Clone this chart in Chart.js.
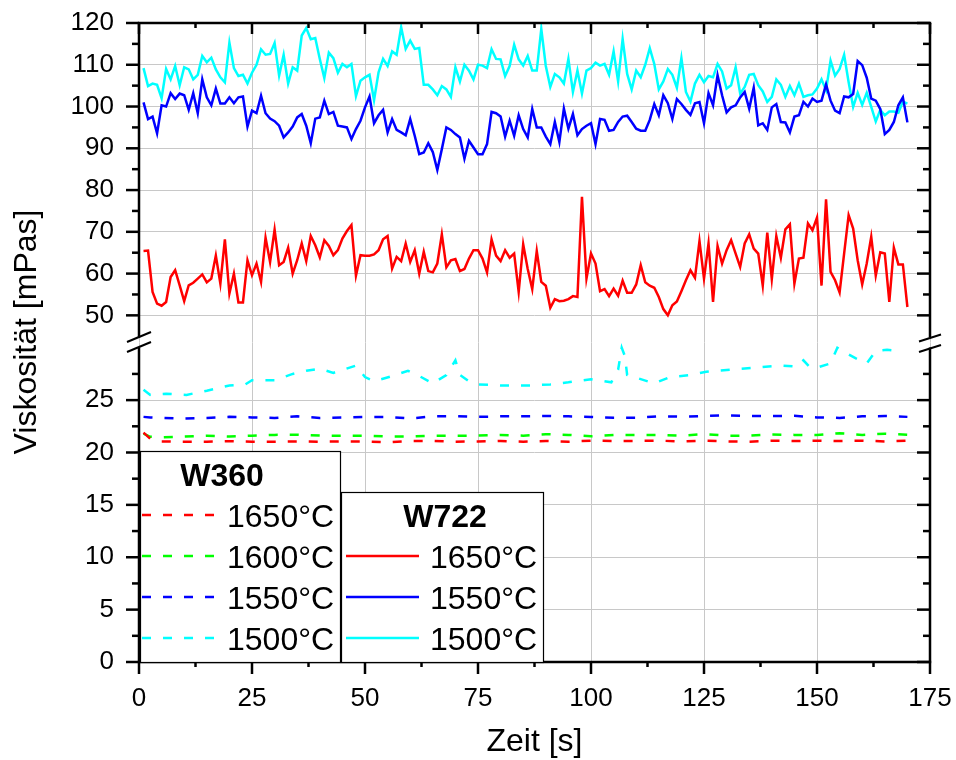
<!DOCTYPE html>
<html>
<head>
<meta charset="utf-8">
<script src="https://cdn.jsdelivr.net/npm/chart.js@4.4.1/dist/chart.umd.min.js"></script>
<style>
  html, body { margin: 0; padding: 0; background: #fff; }
  #wrap { width: 956px; height: 760px; }
</style>
</head>
<body>
<div id="wrap"><canvas id="viskoChart" width="956" height="760"></canvas></div>
<script>
// Zeitachse W722 (1 s Schritte)
const zeit = Array.from({ length: 170 }, (_, i) => i + 1)

const w722_1650 = [
  65.4, 65.5, 55.6, 52.8, 52.3, 53.2, 59.2, 60.8, 57.2, 53.4,
  57.2, 57.8, 58.8, 59.8, 57.9, 58.8, 64.3, 57.6, 68.2, 55.2,
  60.0, 53.1, 53.1, 63.2, 59.6, 62.4, 58.0, 68.6, 62.8, 70.5,
  62.0, 62.8, 66.2, 60.0, 63.2, 67.2, 63.0, 69.0, 66.8, 63.9,
  68.0, 66.6, 64.4, 65.6, 68.4, 70.2, 71.6, 59.5, 64.4, 64.3,
  64.3, 64.6, 65.6, 68.2, 69.0, 61.2, 64.0, 63.0, 67.2, 62.8,
  65.6, 60.0, 65.2, 60.6, 60.3, 62.4, 69.4, 61.5, 63.2, 63.5,
  60.6, 61.1, 63.6, 65.6, 65.6, 63.6, 60.3, 68.2, 64.3, 63.0,
  65.6, 63.8, 64.8, 55.6, 67.0, 61.1, 56.3, 65.4, 58.0, 57.1,
  51.8, 53.9, 53.4, 53.5, 53.9, 54.6, 54.4, 78.4, 58.8, 64.8,
  62.4, 55.8, 56.3, 54.6, 56.4, 54.7, 58.3, 55.4, 55.4, 57.4,
  62.0, 57.9, 57.1, 56.6, 54.4, 51.5, 50.0, 52.4, 53.3, 55.8,
  58.4, 60.8, 59.0, 67.8, 58.8, 67.2, 53.2, 66.6, 62.4, 65.6,
  68.0, 64.8, 61.6, 67.2, 69.4, 66.0, 64.8, 57.1, 69.8, 58.7,
  69.0, 63.8, 70.6, 71.8, 57.6, 63.6, 63.8, 72.0, 70.4, 73.4,
  57.1, 77.8, 60.4, 58.4, 55.5, 64.8, 74.0, 70.8, 63.2, 57.4,
  62.4, 68.8, 59.5, 65.1, 64.8, 53.2, 66.2, 62.2, 62.2, 52.0
]

const w722_1550 = [
  101.0, 97.0, 97.6, 93.6, 100.3, 100.0, 103.2, 101.8, 103.1, 102.7,
  99.2, 103.2, 98.4, 106.5, 102.2, 100.3, 104.3, 100.7, 100.7, 102.2,
  100.8, 102.2, 102.4, 95.2, 99.0, 98.4, 102.6, 98.4, 97.1, 96.5,
  95.4, 92.6, 93.8, 95.2, 97.4, 98.2, 95.4, 91.2, 97.1, 97.4,
  101.4, 98.2, 98.7, 95.4, 95.2, 95.0, 92.2, 94.6, 96.6, 99.8,
  102.4, 96.0, 97.9, 99.2, 93.8, 97.0, 94.4, 93.8, 93.1, 97.0,
  93.0, 88.6, 89.0, 91.2, 89.1, 84.8, 89.8, 95.0, 94.4, 93.4,
  92.6, 87.5, 91.8, 90.2, 88.6, 88.6, 91.0, 98.7, 98.4, 97.6,
  92.8, 96.6, 93.0, 97.9, 94.6, 92.6, 99.4, 95.0, 95.0, 92.8,
  91.0, 96.3, 91.5, 99.5, 94.7, 98.2, 93.1, 94.6, 95.4, 96.0,
  91.0, 97.0, 96.8, 94.2, 94.4, 96.3, 97.6, 97.8, 96.3, 94.7,
  94.2, 94.2, 96.8, 100.6, 97.9, 102.7, 100.8, 97.0, 101.8, 100.6,
  99.2, 98.0, 100.8, 101.1, 96.0, 103.2, 100.3, 107.5, 102.7, 98.6,
  99.8, 100.3, 102.2, 103.5, 99.5, 104.5, 95.5, 96.0, 94.4, 99.8,
  100.6, 96.3, 96.2, 93.8, 97.6, 97.9, 101.1, 100.0, 101.9, 101.1,
  101.4, 105.3, 101.4, 99.0, 98.4, 102.4, 102.2, 103.0, 110.9, 109.9,
  106.9, 101.9, 101.4, 99.4, 93.4, 94.4, 96.3, 100.3, 102.2, 96.2
]

const w722_1500 = [
  109.2, 104.9, 105.5, 105.2, 102.0, 109.0, 106.5, 109.7, 105.1, 109.4,
  108.9, 106.5, 107.6, 112.1, 110.6, 111.7, 108.9, 107.0, 105.8, 115.3,
  109.2, 107.3, 107.6, 105.5, 108.1, 110.0, 113.7, 112.4, 112.6, 115.2,
  107.4, 112.4, 105.5, 109.4, 108.6, 117.0, 118.8, 116.1, 116.4, 111.4,
  106.8, 112.9, 111.6, 108.1, 110.2, 109.4, 110.2, 102.5, 106.2, 107.0,
  107.6, 101.5, 108.2, 111.4, 109.7, 113.2, 112.4, 119.0, 113.8, 115.8,
  113.8, 114.0, 105.2, 105.2, 104.1, 102.7, 104.9, 104.1, 102.3, 109.4,
  106.0, 110.0, 108.6, 106.5, 110.0, 109.8, 109.2, 113.7, 111.4, 111.3,
  107.3, 109.7, 114.8, 111.3, 109.8, 112.1, 108.6, 108.6, 118.6, 109.7,
  104.7, 107.8, 107.0, 105.5, 111.4, 103.5, 108.6, 103.1, 108.6, 109.2,
  110.5, 109.8, 110.2, 107.6, 113.2, 106.0, 116.2, 107.8, 104.1, 108.6,
  107.0, 110.0, 114.0, 110.2, 104.1, 106.0, 109.0, 107.6, 104.5, 111.6,
  103.5, 101.2, 105.5, 107.6, 105.8, 107.3, 107.0, 110.2, 108.4, 104.3,
  105.1, 109.4, 103.1, 104.7, 107.6, 107.8, 105.1, 103.6, 101.1, 102.3,
  106.5, 105.2, 102.3, 104.9, 102.7, 105.5, 102.3, 102.7, 102.9, 104.3,
  106.5, 103.9, 111.0, 107.4, 109.0, 112.4, 105.8, 99.9, 103.3, 100.4,
  103.3, 99.9, 96.4, 99.2, 97.9, 98.8, 98.8, 98.5, 101.2, 100.7
]

// W360 (gestrichelt)
const w360Zeit = [1, 2.5, 5, 10, 15, 20, 25, 30, 35, 40, 45, 50, 55, 60, 65, 70, 75, 80, 85,
  90, 95, 100, 105, 110, 115, 120, 125, 130, 135, 140, 145, 150, 155, 160, 165, 170]
const w360_1650 = [21.9, 21.3, 21.05, 21.03, 21.03, 21.08, 21.03, 21.03, 21.06, 21.03, 21.06, 21.06,
  20.97, 21.1, 21.1, 21.03, 21.06, 21.1, 21.03, 21.1, 21.03, 21.13, 21.1, 21.1, 21.13, 21.06,
  21.13, 21.06, 21.03, 21.13, 21.1, 21.13, 21.1, 21.13, 21.06, 21.13]
const w360_1600 = [21.8, 21.5, 21.45, 21.52, 21.61, 21.52, 21.61, 21.68, 21.7, 21.61, 21.61, 21.61,
  21.52, 21.52, 21.61, 21.61, 21.61, 21.68, 21.61, 21.75, 21.68, 21.55, 21.68, 21.68, 21.68, 21.61,
  21.75, 21.61, 21.61, 21.72, 21.68, 21.68, 21.84, 21.68, 21.8, 21.7]
const w360_1550 = [23.4, 23.35, 23.3, 23.23, 23.3, 23.4, 23.35, 23.3, 23.45, 23.3, 23.35, 23.4,
  23.4, 23.25, 23.45, 23.48, 23.4, 23.45, 23.45, 23.48, 23.45, 23.4, 23.32, 23.32, 23.45, 23.42,
  23.48, 23.55, 23.48, 23.48, 23.5, 23.35, 23.3, 23.45, 23.48, 23.4]
const w360Zeit1500 = [1, 2.5, 6, 10.5, 15, 20, 23.5, 25, 30, 34, 37, 40, 43, 48, 50, 52, 56, 59.5,
  62, 65, 68, 70, 71, 73, 75, 80, 86.5, 91, 95, 100, 104.5, 106, 106.8, 107.5, 108, 114, 117.5,
  122, 125.5, 131, 136.5, 142, 145.5, 147, 148.5, 150, 153, 154.5, 156, 158.5, 161, 163, 165.5, 168]
const w360_1500 = [26.0, 25.5, 25.6, 25.5, 25.9, 26.4, 26.5, 26.9, 26.9, 27.5, 27.8, 28.0, 27.6,
  28.3, 27.2, 26.8, 27.3, 27.8, 27.3, 26.6, 27.4, 28.8, 27.4, 26.8, 26.5, 26.4, 26.4, 26.5, 26.7,
  27.0, 26.7, 27.9, 30.0, 29.2, 27.4, 26.6, 27.2, 27.4, 27.7, 27.9, 28.1, 28.3, 28.2, 28.8, 28.1,
  28.1, 28.5, 30.0, 29.6, 29.0, 28.5, 29.7, 29.8, 29.7]

const xTicks = [0, 25, 50, 75, 100, 125, 150, 175]
const yTicksOben = [50, 60, 70, 80, 90, 100, 110, 120]
const yTicksUnten = [0, 5, 10, 15, 20, 25]

const FONT = "'Liberation Sans', Arial, sans-serif"
const GRID = '#c8c8c8'
Chart.defaults.font.family = FONT
Chart.defaults.color = '#000'

const pts = (xs, ys) => ys.map((y, i) => ({ x: xs[i], y: y }))

const linie = (label, xs, ys, color, axis, dashed) => ({
  label: label,
  data: pts(xs, ys),
  yAxisID: axis,
  borderColor: color,
  backgroundColor: color,
  borderWidth: 2.5,
  borderDash: dashed ? [9, 12] : [],
  pointRadius: 0,
  tension: 0,
  fill: false
})

// Achsenrahmen, Ticks, Achsenbruch, Titel und Legende
const rahmenPlugin = {
  id: 'rahmen',
  afterDraw(chart) {
    const ctx = chart.ctx
    const a = chart.chartArea
    const sx = chart.scales.x
    const so = chart.scales.yOben
    const su = chart.scales.yUnten
    const bruch = so.bottom
    const line = (x1, y1, x2, y2) => {
      ctx.beginPath()
      ctx.moveTo(x1, y1)
      ctx.lineTo(x2, y2)
      ctx.stroke()
    }
    ctx.save()
    ctx.strokeStyle = '#000'
    ctx.lineCap = 'butt'
    ctx.lineWidth = 2.5
    line(a.left - 1.2, a.top, a.right + 1.2, a.top)
    line(a.left - 1.2, a.bottom, a.right + 1.2, a.bottom)
    line(a.left, a.top, a.left, bruch - 5)
    line(a.left, bruch + 5, a.left, a.bottom)
    line(a.right, a.top, a.right, bruch - 5)
    line(a.right, bruch + 5, a.right, a.bottom)

    // x ticks
    xTicks.forEach(v => {
      const p = sx.getPixelForValue(v)
      line(p, a.bottom, p, a.bottom + 12)
      line(p, a.top, p, a.top + 11)
    })
    for (let v = 12.5; v < 175; v += 25) {
      const p = sx.getPixelForValue(v)
      line(p, a.bottom, p, a.bottom + 5)
      line(p, a.top, p, a.top + 5)
    }
    // y ticks
    const yTick = (scale, v, len) => {
      const p = scale.getPixelForValue(v)
      line(a.left - len, p, a.left, p)
      line(a.right, p, a.right - len, p)
    }
    yTicksOben.forEach(v => yTick(so, v, 13))
    for (let v = 55; v < 120; v += 10) yTick(so, v, 7)
    yTicksUnten.forEach(v => yTick(su, v, 13))
    for (let v = 2.5; v < 30; v += 5) yTick(su, v, 7)

    // Achsenbruch
    ctx.lineWidth = 2
    line(a.left - 12, bruch - 0.5, a.left + 12, bruch - 10.5)
    line(a.left - 12, bruch + 9.5, a.left + 12, bruch - 0.5)
    line(a.right - 11, bruch - 1, a.right + 11, bruch - 8)
    line(a.right - 11, bruch + 9.5, a.right + 11, bruch + 2.5)

    // Achsentitel
    ctx.fillStyle = '#000'
    ctx.font = '32px ' + FONT
    ctx.textAlign = 'center'
    ctx.textBaseline = 'middle'
    ctx.fillText('Zeit [s]', (a.left + a.right) / 2, 742)
    ctx.save()
    ctx.translate(27, 332)
    ctx.rotate(-Math.PI / 2)
    ctx.fillText('Viskosität [mPas]', 0, 0)
    ctx.restore()

    // Legenden
    const box = (x1, y1, x2, y2, titel, tx, eintraege, lx1, lx2, textX) => {
      ctx.fillStyle = '#fff'
      ctx.fillRect(x1, y1, x2 - x1, y2 - y1)
      ctx.lineWidth = 1.2
      ctx.strokeStyle = '#000'
      ctx.setLineDash([])
      ctx.strokeRect(x1 + 0.5, y1 + 0.5, x2 - x1, y2 - y1)
      ctx.fillStyle = '#000'
      ctx.textAlign = 'center'
      ctx.textBaseline = 'alphabetic'
      ctx.font = 'bold 32px ' + FONT
      ctx.fillText(titel, tx, y1 + 35)
      ctx.font = '32px ' + FONT
      ctx.textAlign = 'left'
      eintraege.forEach(e => {
        ctx.strokeStyle = e.farbe
        ctx.lineWidth = 2.5
        ctx.setLineDash(e.dashed ? [9, 12] : [])
        line(lx1, e.y, lx2, e.y)
        ctx.setLineDash([])
        ctx.fillStyle = '#000'
        ctx.fillText(e.text, textX, e.y + 12)
      })
    }
    box(a.left + 1, 451, 340, a.bottom, 'W360', 222, [
      { text: '1650°C', farbe: '#ff0000', y: 515, dashed: true },
      { text: '1600°C', farbe: '#00ff00', y: 556, dashed: true },
      { text: '1550°C', farbe: '#0000ff', y: 597, dashed: true },
      { text: '1500°C', farbe: '#00ffff', y: 638, dashed: true }
    ], 142, 216, 227)
    box(341, 492, 543, a.bottom, 'W722', 445, [
      { text: '1650°C', farbe: '#ff0000', y: 556 },
      { text: '1550°C', farbe: '#0000ff', y: 597 },
      { text: '1500°C', farbe: '#00ffff', y: 638 }
    ], 346, 419, 430)
    ctx.restore()
  }
}

const yAchse = (min, max, ticks) => ({
  type: 'linear',
  position: 'left',
  stack: 'viskos',
  stackWeight: 1,
  min: min,
  max: max,
  afterBuildTicks: s => { s.ticks = ticks.map(v => ({ value: v })) },
  afterFit: s => {
    s.width = 139
    s.paddingTop = 0
    s.paddingBottom = 0
  },
  ticks: { autoSkip: false, padding: 25, font: { size: 26 }, color: '#000' },
  grid: { color: GRID, lineWidth: 1, drawTicks: false },
  border: { display: false }
})

const ctx = document.getElementById('viskoChart').getContext('2d')
const config = {
  type: 'line',
  data: {
    datasets: [
      linie('W722 1550°C', zeit, w722_1550, '#0000ff', 'yOben', false),
      linie('W722 1500°C', zeit, w722_1500, '#00ffff', 'yOben', false),
      linie('W722 1650°C', zeit, w722_1650, '#ff0000', 'yOben', false),
      linie('W360 1650°C', w360Zeit, w360_1650, '#ff0000', 'yUnten', true),
      linie('W360 1600°C', w360Zeit, w360_1600, '#00ff00', 'yUnten', true),
      linie('W360 1550°C', w360Zeit, w360_1550, '#0000ff', 'yUnten', true),
      linie('W360 1500°C', w360Zeit1500, w360_1500, '#00ffff', 'yUnten', true)
    ]
  },
  options: {
    responsive: false,
    animation: false,
    layout: { padding: { top: 23, right: 26, left: 0, bottom: 0 } },
    plugins: { legend: { display: false }, tooltip: { enabled: false } },
    scales: {
      x: {
        type: 'linear',
        min: 0,
        max: 175,
        afterBuildTicks: s => { s.ticks = xTicks.map(v => ({ value: v })) },
        afterFit: s => {
          s.height = 98
          s.paddingLeft = 0
          s.paddingRight = 0
        },
        ticks: { autoSkip: false, maxRotation: 0, padding: 21, font: { size: 26 }, color: '#000' },
        grid: { color: GRID, lineWidth: 1, drawTicks: false },
        border: { display: false }
      },
      // untere Achse zuerst: Chart.js stapelt in dieser Reihenfolge von unten
      yUnten: yAchse(0, 30.5, yTicksUnten),
      yOben: yAchse(43.5, 120, yTicksOben)
    }
  },
  plugins: [rahmenPlugin]
}
const viskoChart = new Chart(ctx, config)
</script>
</body>
</html>
